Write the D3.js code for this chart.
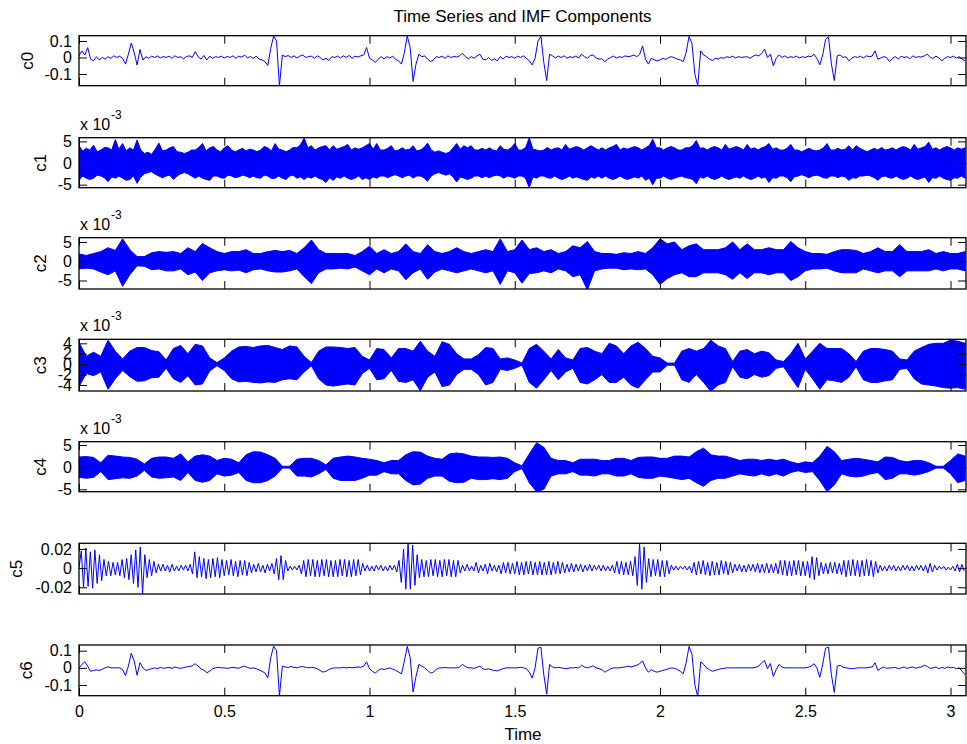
<!DOCTYPE html>
<html><head><meta charset="utf-8">
<script src="https://cdn.jsdelivr.net/npm/d3@7"></script>
<style>
body{margin:0;background:#fff}
svg{display:block}
text{font-family:"Liberation Sans",Arial,Helvetica,sans-serif;fill:#000}
</style>
</head><body>
<svg id="chart" width="967" height="744"></svg>
<script>
// ---------------- DATA ----------------
const titleText = "Time Series and IMF Components";
const xLabelText = "Time";
const componentNames = ["c0","c1","c2","c3","c4","c5","c6"];
const timeTicks = [0,0.5,1,1.5,2,2.5,3];
const timeTickLabels = ["0","0.5","1","1.5","2","2.5","3"];
const timeEnd = 3.0533;

// c0 and c6: samples every 0.01 s, in units of 1e-3
const c0 = [
10,40,15,60,-10,-20,5,-15,0,-10,
5,-5,10,0,8,-5,-40,20,88,30,
-46,48,-16,5,-5,8,0,10,-3,6,
0,8,-5,10,0,5,-8,6,10,0,
35,5,-10,12,-15,8,-5,5,0,8,
-3,6,0,10,-5,8,2,15,-3,6,
-5,8,-10,-15,-25,-48,55,130,100,-173,
15,5,12,0,10,-3,8,15,0,5,
8,-5,10,0,-15,-5,-18,5,0,8,
-3,10,0,12,-5,8,3,10,15,60,
-5,-15,-30,-10,5,-8,5,-3,8,-12,
-20,-40,30,130,60,-145,-40,20,5,10,
-10,-25,-15,5,0,8,-5,10,0,6,
3,10,25,5,-8,5,-5,10,20,-10,
-15,0,-18,-8,-20,5,-10,8,0,5,
-5,8,0,10,-5,-20,-45,-5,100,128,
-30,-140,20,10,-3,8,0,10,-5,5,
0,8,-3,20,5,-5,12,15,-3,-10,
-8,-25,-10,0,8,-3,5,0,10,5,
8,15,5,20,70,-10,-40,-5,-15,-20,
-15,-5,-12,0,5,-3,-10,-15,-25,30,
128,85,-100,-173,40,15,5,-10,-18,-5,
-10,0,-5,5,0,8,-3,5,0,3,
5,-5,8,15,10,25,50,0,20,-50,
-5,15,0,10,-3,5,0,8,-3,5,
0,8,5,20,-5,-45,15,110,125,-40,
-140,10,15,0,5,-20,-5,5,0,8,
-3,10,5,8,40,-10,-3,5,0,-25,
-5,5,-10,8,0,5,-8,10,0,5,
3,10,20,0,-5,8,-3,-20,-5,5,
0,8,-3,5,-10,-20];

const c6 = [
0,20,35,10,-20,-15,-12,-15,-8,0,
6,0,0,0,0,-10,-45,10,85,40,
-43,30,0,-15,-10,-5,0,-5,3,-3,
0,3,-3,5,0,-3,2,5,8,12,
24,10,-5,-15,-28,-20,-5,0,3,0,
0,-3,0,3,0,-2,5,10,2,-3,
0,-5,-12,-20,-30,-58,60,125,100,-165,
10,5,2,8,3,0,5,8,3,0,
3,0,-5,-15,-25,-20,-10,-3,0,0,
0,2,0,3,0,2,5,3,10,35,
-5,-20,-30,-15,-5,-10,-5,0,-8,-15,
-25,-35,40,125,60,-140,-50,20,10,0,
-15,-30,-25,-8,0,0,2,0,0,0,
0,5,20,8,0,0,-3,3,10,-5,
-10,-5,-12,-15,-18,-10,-5,0,0,0,
0,0,3,0,-5,-25,-60,0,115,120,
-40,-153,20,5,0,3,0,-3,-5,0,
0,2,0,15,5,0,5,12,0,-5,
-10,-25,-15,-5,0,0,0,3,5,10,
5,10,15,25,40,0,-25,-10,-20,-25,
-20,-15,-10,-5,0,-3,-10,-20,-35,30,
125,80,-100,-167,35,20,0,-10,-20,-15,
-10,-5,-3,0,0,0,0,0,0,0,
0,0,0,3,10,30,43,-5,25,-50,
-10,20,5,0,0,0,0,0,0,0,
0,3,10,24,0,-55,20,115,120,-40,
-143,10,15,3,0,-3,-5,-3,0,0,
0,0,3,5,30,-15,-3,5,-3,0,
0,3,-5,0,5,-3,2,5,-2,3,
5,15,8,-3,0,5,-5,3,-3,5,
0,3,-5,0,-20,-40];

// c5: successive oscillation extremes every 1/128 s, units of 1e-3
const c5 = [
0,18,-20,21,-19,17,-21,19,-16,14,-13,9,-8,7,-8,6,
-7,6,-8,9,-10,10,-12,14,-16,19,-20,22,-27,14,-10,9,
-8,7,-5,4,-3,4,-3,3,-4,4,-3,2,-3,3,-2,3,
-3,4,-6,17,-10,12,-9,10,-11,9,-10,10,-9,11,-10,9,
-8,8,-7,9,-8,7,-9,8,-7,8,-8,6,-5,4,-4,5,
-4,3,-5,4,-3,5,-6,10,-12,13,-12,8,-3,2,-2,2,
-2,3,-6,8,-9,9,-8,9,-9,8,-9,9,-8,9,-9,8,
-9,8,-9,9,-8,9,-9,8,-9,9,-8,9,-7,5,-3,3,
-3,2,-3,3,-2,3,-3,2,-3,3,-2,3,-4,8,-15,20,
-22,26,-22,24,-18,14,-10,9,-9,8,-9,9,-8,9,-9,8,
-9,9,-8,9,-9,8,-9,8,-5,3,-3,4,-3,2,-3,6,
-5,3,-3,4,-6,5,-3,3,-4,3,-6,6,-5,6,-6,5,
-6,7,-7,6,-7,7,-6,7,-7,6,-7,7,-7,6,-7,7,
-7,6,-6,7,-6,6,-5,4,-4,5,-4,4,-3,4,-4,3,
-3,4,-3,3,-2,3,-3,3,-3,2,-3,3,-5,7,-6,7,
-7,6,-7,7,-8,12,-18,26,-22,22,-15,10,-9,9,-8,9,
-9,8,-9,8,-6,3,-2,2,-2,2,-1,2,-2,2,-5,6,
-7,7,-6,8,-7,6,-8,7,-7,6,-7,8,-6,7,-7,6,
-5,4,-3,4,-4,3,-4,4,-3,4,-4,5,-5,4,-5,5,
-5,4,-5,5,-6,8,-7,8,-8,7,-8,8,-7,8,-8,7,
-8,7,-10,12,-12,11,-8,6,-6,5,-6,6,-5,6,-6,5,
-7,8,-9,8,-8,9,-8,8,-9,8,-8,9,-8,8,-9,7,
-5,3,-3,2,-3,3,-2,3,-3,2,-3,3,-2,3,-3,2,
-3,3,-2,3,-3,3,-5,5,-4,3,-2,2,-1,2,-2,1,
-2,2,-3,4,-4,4,-3];

// c1: upper / lower envelope every 0.0125 s, units of 1e-3
const c1Upper = [
4.0,2.8,3.4,3.0,4.1,2.6,3.0,3.6,3.5,3.0,5.4,3.2,4.5,2.8,3.5,3.0,
5.3,3.0,2.2,2.5,2.0,3.2,4.6,2.8,3.0,3.5,3.8,2.6,2.5,2.2,2.5,3.0,
3.0,3.6,4.5,2.8,3.5,3.8,3.0,2.6,3.5,4.0,3.0,2.6,3.0,3.4,2.8,3.2,
3.0,2.6,3.0,3.8,3.5,2.8,4.5,3.2,3.0,2.6,3.0,3.6,3.5,4.2,5.8,3.5,
4.0,3.0,3.5,3.8,4.0,3.0,4.0,3.2,3.5,3.8,4.3,3.0,3.5,3.2,3.5,4.0,
4.5,3.2,4.5,3.0,3.0,3.4,4.0,2.8,3.0,3.5,3.0,3.2,4.0,2.8,3.0,3.6,
4.6,3.0,2.5,2.8,2.5,2.2,2.5,3.5,4.5,3.2,4.0,3.5,4.0,3.0,3.0,3.4,
3.0,3.5,3.0,2.8,4.0,3.2,3.0,3.5,4.5,3.0,3.0,3.6,5.8,3.2,3.0,2.8,
3.0,3.6,3.0,3.4,3.5,3.0,4.3,3.2,3.5,3.8,3.5,3.0,3.5,4.0,3.5,3.0,
3.5,3.0,3.5,3.8,4.3,3.0,3.5,3.2,3.5,3.8,3.5,3.0,3.5,4.0,5.5,3.5,
3.5,3.0,3.5,3.8,3.5,3.0,3.0,3.5,3.5,4.0,5.2,3.4,3.5,3.0,3.5,3.8,
3.5,3.0,4.3,3.2,3.5,3.8,3.5,3.0,4.3,3.2,3.5,3.0,3.5,3.8,4.5,3.2,
3.5,3.0,3.0,3.4,4.3,3.0,3.0,2.6,3.0,3.4,3.0,2.8,3.0,3.5,4.5,3.0,
3.0,3.4,3.0,3.2,4.0,3.0,4.0,3.4,3.0,2.6,3.0,3.4,3.0,3.6,3.0,3.2,
3.5,3.0,3.5,3.8,3.5,3.0,4.3,3.2,3.5,3.8,4.8,3.2,3.5,3.0,3.5,3.8,
3.5,3.0,3.5,3.2,3.5];
const c1Lower = [
-4.0,-3.0,-3.5,-3.8,-3.5,-2.8,-3.0,-3.4,-4.3,-3.2,-3.5,-3.0,-3.5,-4.0,-3.8,-3.0,
-4.7,-3.2,-2.5,-2.2,-2.0,-2.6,-3.0,-3.4,-3.0,-2.8,-3.8,-3.0,-2.5,-2.2,-2.5,-3.0,
-3.5,-3.0,-3.5,-3.8,-4.0,-3.0,-3.0,-3.4,-3.5,-2.8,-3.0,-3.4,-3.2,-2.8,-3.0,-3.4,
-3.0,-3.4,-3.5,-2.8,-3.0,-3.6,-3.5,-3.0,-3.5,-3.8,-3.0,-2.8,-3.5,-3.2,-3.8,-3.2,
-3.5,-3.0,-3.5,-3.8,-4.5,-3.4,-4.0,-3.2,-3.5,-3.0,-3.5,-3.8,-3.5,-3.0,-3.8,-3.4,
-3.8,-3.2,-3.5,-3.0,-3.0,-3.4,-3.0,-2.7,-3.0,-3.4,-3.0,-2.8,-3.5,-3.0,-3.0,-3.4,
-4.2,-3.0,-2.5,-2.2,-2.5,-2.8,-2.5,-3.2,-4.4,-3.2,-3.5,-3.8,-3.5,-3.0,-3.0,-3.4,
-3.0,-3.4,-3.0,-2.8,-3.0,-3.5,-3.0,-3.2,-3.5,-3.0,-3.0,-3.6,-5.7,-3.2,-3.5,-3.0,
-3.0,-3.4,-3.5,-3.0,-3.5,-3.8,-3.5,-3.0,-3.5,-3.2,-3.5,-3.8,-4.0,-3.2,-3.5,-3.0,
-3.5,-3.0,-3.5,-3.8,-3.5,-3.0,-3.5,-3.8,-3.5,-3.2,-3.5,-3.0,-4.0,-3.5,-5.0,-3.5,
-3.5,-3.0,-3.5,-3.8,-3.5,-3.2,-3.0,-3.4,-3.5,-3.8,-4.8,-3.2,-3.5,-3.0,-3.5,-3.8,
-3.5,-3.0,-3.5,-3.8,-3.5,-3.2,-3.5,-3.0,-3.5,-3.8,-3.5,-3.0,-3.5,-3.2,-4.5,-3.4,
-3.5,-3.0,-3.0,-3.4,-4.3,-3.2,-3.0,-2.7,-3.0,-3.4,-3.0,-2.8,-3.0,-3.4,-3.5,-3.0,
-3.0,-3.4,-3.0,-3.2,-4.0,-3.4,-3.5,-3.0,-3.0,-2.8,-3.0,-3.4,-4.0,-3.2,-3.0,-3.4,
-3.5,-3.0,-3.5,-3.8,-3.5,-3.0,-3.5,-3.8,-3.5,-3.2,-4.5,-3.4,-3.5,-3.0,-3.5,-3.8,
-4.0,-3.4,-3.5,-3.0,-3.5];

// c2..c4: upper / lower envelopes every 0.025 s, units of 1e-3
const c2Upper = [
1.9,1.5,2.0,2.5,3.5,2.8,5.8,3.0, 1.2,1.2,2.2,2.5,2.3,2.5,2.0,3.5,
2.5,4.6,3.5,2.5,2.0,2.5,2.5,3.0, 2.0,2.0,2.5,2.8,2.5,2.8,2.0,3.5,
5.5,3.0,2.0,2.0,2.0,2.0,1.5,2.5, 3.9,2.0,3.0,2.0,2.5,4.5,2.5,2.0,
4.3,2.5,2.0,2.5,3.5,2.5,2.0,2.5, 3.0,2.5,5.8,2.5,3.0,5.5,3.0,3.5,
2.5,3.0,2.0,2.5,4.0,3.5,5.1,2.5, 2.0,2.0,1.8,2.2,2.0,2.5,2.0,3.5,
5.8,4.5,5.0,3.0,4.0,4.5,3.0,3.0, 3.0,3.5,5.0,3.0,4.5,3.0,3.0,3.5,
3.0,3.0,5.1,3.5,2.5,2.0,2.0,1.8, 2.5,3.0,3.0,2.8,2.0,2.5,3.5,2.5,
2.5,4.3,2.5,2.5,2.5,3.0,2.0,2.5, 2.0,2.0,2.5];
const c2Lower = [
-2.0,-1.8,-2.0,-2.8,-3.5,-2.5,-6.5,-3.5, -1.2,-1.3,-2.2,-2.0,-2.5,-2.5,-2.0,-3.5,
-2.8,-5.0,-3.0,-2.5,-2.2,-2.5,-2.3,-3.0, -2.2,-2.0,-2.5,-2.8,-2.8,-2.5,-2.0,-4.0,
-5.8,-3.0,-2.0,-2.0,-1.8,-2.0,-1.5,-2.5, -3.5,-2.0,-3.0,-2.0,-2.5,-4.8,-3.0,-2.0,
-4.7,-2.8,-2.0,-2.5,-3.0,-2.5,-2.0,-2.5, -3.0,-2.5,-6.0,-2.5,-3.0,-5.7,-3.2,-3.0,
-2.5,-3.0,-2.0,-2.5,-4.0,-3.5,-7.4,-2.5, -2.0,-1.8,-1.8,-2.2,-2.0,-2.2,-2.0,-3.5,
-6.0,-4.5,-3.5,-3.0,-4.0,-4.0,-3.0,-3.0, -3.0,-3.5,-4.7,-3.0,-4.5,-3.0,-3.0,-3.5,
-3.0,-3.0,-5.0,-4.0,-2.5,-2.0,-2.0,-1.8, -2.5,-3.0,-3.0,-3.0,-2.0,-2.5,-3.0,-2.5,
-2.5,-4.0,-2.5,-2.5,-2.5,-2.5,-2.0,-2.5, -2.0,-2.0,-2.5];

const c3Upper = [
4.2,1.5,2.3,1.5,4.6,2.5,1.0,2.5, 3.2,3.2,2.6,2.4,0.8,3.0,3.6,2.0,
3.8,3.5,1.2,0.3,1.2,2.5,3.3,3.4, 3.2,3.5,3.6,3.2,2.8,3.5,3.3,1.5,
0.3,2.5,3.3,3.3,3.2,3.0,3.2,1.5, 0.8,3.0,2.8,1.2,3.0,3.0,2.5,4.4,
2.5,1.5,4.3,3.8,2.0,1.0,1.0,1.8, 3.2,3.0,1.0,1.2,0.8,0.2,3.0,3.8,
2.5,1.0,2.8,1.2,0.8,3.0,3.2,2.5, 2.0,4.0,3.5,2.0,3.5,4.2,3.0,1.5,
1.2,0.2,0.2,2.5,3.0,2.5,3.0,4.6, 3.5,3.0,0.5,2.5,2.8,2.0,2.5,2.2,
0.8,0.5,2.0,4.0,1.0,2.5,4.0,3.0, 3.0,3.0,2.0,0.5,2.5,3.0,3.0,2.8,
2.5,1.0,0.8,2.5,3.2,3.8,4.0,4.0, 4.6,4.4,4.0];
const c3Lower = [
-4.3,-1.8,-2.2,-1.5,-4.8,-2.8,-1.2,-2.4, -3.3,-3.2,-2.6,-2.5,-0.8,-2.8,-3.5,-2.2,
-4.0,-3.8,-1.3,-0.3,-1.2,-2.8,-3.4,-3.3, -3.5,-3.6,-3.4,-3.5,-3.0,-2.8,-3.0,-1.5,
-0.3,-2.8,-4.0,-4.2,-4.0,-3.8,-4.0,-1.8, -0.8,-3.0,-2.8,-1.2,-3.3,-3.5,-3.0,-5.1,
-2.5,-1.5,-4.3,-4.0,-2.0,-1.0,-1.0,-2.0, -4.0,-3.5,-1.0,-1.2,-0.8,-0.2,-3.5,-4.6,
-3.0,-1.2,-3.0,-1.5,-0.8,-3.5,-3.8,-3.0, -2.0,-3.5,-3.5,-2.5,-4.0,-4.6,-3.0,-1.5,
-1.5,-0.2,-0.2,-3.0,-3.5,-2.0,-3.5,-5.2, -4.0,-3.5,-0.5,-2.5,-2.8,-2.0,-2.5,-2.2,
-0.8,-0.5,-2.5,-4.5,-1.0,-2.8,-4.8,-3.0, -3.2,-3.5,-2.5,-0.5,-3.0,-3.5,-3.5,-3.2,
-3.0,-1.0,-0.8,-2.8,-3.8,-4.0,-4.2,-4.5, -4.6,-4.5,-4.8];

const c4Upper = [
2.3,2.4,2.2,1.0,2.7,2.5,2.3,2.2, 1.8,0.7,2.0,2.3,2.3,2.0,3.0,1.2,
2.5,2.8,2.5,1.5,2.0,1.8,1.0,2.8, 3.5,3.4,2.8,2.0,0.2,0.2,1.8,2.0,
2.0,1.5,0.5,2.0,2.3,2.5,2.3,2.0, 1.8,1.5,1.0,1.5,1.5,2.8,3.5,3.4,
2.5,2.0,1.8,3.0,3.2,3.0,2.5,2.3, 2.3,2.2,2.3,2.0,1.0,0.3,3.0,5.5,
4.5,2.0,1.5,1.5,1.0,1.8,1.8,1.8, 1.5,1.5,2.0,2.0,1.5,2.2,2.3,2.3,
2.0,2.0,2.5,2.5,2.3,3.5,4.3,2.8, 2.5,2.5,2.0,1.5,1.8,1.8,1.5,1.8,
1.5,1.8,1.2,0.8,1.2,1.0,2.5,4.7, 3.5,1.5,1.8,2.0,1.8,1.5,1.2,2.3,
2.2,1.5,1.2,1.5,1.5,1.0,0.2,0.2, 1.5,3.0,2.5];
const c4Lower = [
-2.3,-2.5,-2.3,-1.0,-2.8,-2.6,-2.4,-2.5, -2.0,-0.7,-2.2,-2.5,-2.4,-2.2,-3.0,-1.2,
-3.0,-3.4,-3.0,-1.5,-2.0,-1.8,-1.2,-3.0, -3.5,-3.5,-3.0,-2.0,-0.2,-0.2,-2.0,-2.0,
-2.2,-1.5,-0.5,-2.5,-3.0,-3.0,-3.0,-2.5, -1.8,-1.8,-1.0,-1.5,-1.5,-3.0,-4.0,-3.8,
-2.5,-2.0,-2.0,-3.2,-3.5,-3.4,-2.5,-2.8, -2.8,-2.6,-2.8,-2.5,-1.0,-0.3,-3.5,-5.5,
-5.0,-2.0,-1.5,-1.5,-1.0,-1.8,-1.8,-2.0, -1.5,-1.5,-2.0,-2.0,-1.5,-2.3,-2.5,-2.5,
-2.0,-2.2,-2.5,-2.8,-2.5,-3.5,-4.3,-3.0, -2.5,-2.5,-2.0,-1.5,-1.8,-2.0,-1.5,-2.0,
-1.5,-2.0,-1.2,-0.8,-1.2,-1.0,-3.0,-5.5, -4.0,-1.5,-2.0,-2.2,-2.0,-1.5,-1.2,-2.8,
-2.5,-1.5,-1.5,-1.8,-1.5,-1.0,-0.2,-0.2, -1.5,-3.5,-3.0];

// y tick values (as displayed) and their labels
const c0Ticks = [-0.1,0,0.1],   c0TickLabels = ["-0.1","0","0.1"];
const c1Ticks = [-5,0,5],       c1TickLabels = ["-5","0","5"];
const c2Ticks = [-5,0,5],       c2TickLabels = ["-5","0","5"];
const c3Ticks = [-4,-2,0,2,4],  c3TickLabels = ["-4","-2","0","2","4"];
const c4Ticks = [-5,0,5],       c4TickLabels = ["-5","0","5"];
const c5Ticks = [-0.02,0,0.02], c5TickLabels = ["-0.02","0","0.02"];
const c6Ticks = [-0.1,0,0.1],   c6TickLabels = ["-0.1","0","0.1"];
const exponentBase = "x 10", exponentPower = "-3";

// ---------------- LAYOUT ----------------
const L = 79, R = 966;
const FONT = 16;
const panels = [
  {kind:"line", data:c0, step:0.01, factor:1000, top:35.7, bottom:85.7, domain:[-171,132], ticks:c0Ticks, labels:c0TickLabels, labX:33, exp:false},
  {kind:"band", up:c1Upper, lo:c1Lower, step:0.0125, factor:1, top:137.7, bottom:187.7, domain:[-5.7,5.85], ticks:c1Ticks, labels:c1TickLabels, labX:46, exp:true},
  {kind:"band", up:c2Upper, lo:c2Lower, step:0.025, factor:1, top:237.7, bottom:289, domain:[-7.2,6.1], ticks:c2Ticks, labels:c2TickLabels, labX:46, exp:true},
  {kind:"band", up:c3Upper, lo:c3Lower, step:0.025, factor:1, top:339.3, bottom:391, domain:[-5.15,4.77], ticks:c3Ticks, labels:c3TickLabels, labX:46, exp:true},
  {kind:"band", up:c4Upper, lo:c4Lower, step:0.025, factor:1, top:441.7, bottom:491.7, domain:[-5.53,5.75], ticks:c4Ticks, labels:c4TickLabels, labX:46, exp:true},
  {kind:"line", data:c5, step:1/128, factor:1000, top:543.3, bottom:594, domain:[-27,25.9], ticks:c5Ticks, labels:c5TickLabels, labX:21.5, exp:false},
  {kind:"line", data:c6, step:0.01, factor:1000, top:645, bottom:695.7, domain:[-162,133], ticks:c6Ticks, labels:c6TickLabels, labX:32, exp:false}
];

const svg = d3.select("#chart");
const x = d3.scaleLinear().domain([0, timeEnd]).range([L, R]);
const defs = svg.append("defs");
const BLUE = "#0000ff";

function styleAxis(sel){
  sel.attr("font-family",'"Liberation Sans",Arial,sans-serif').attr("font-size",FONT);
  sel.select(".domain").remove();
  sel.selectAll(".tick line").attr("stroke","#000");
}

panels.forEach((p, i) => {
  const y = d3.scaleLinear().domain(p.domain).range([p.bottom, p.top]);
  const clipId = "clip" + i;
  defs.append("clipPath").attr("id", clipId).append("rect")
    .attr("x", L).attr("y", p.top).attr("width", R - L).attr("height", p.bottom - p.top);
  const g = svg.append("g");
  const dg = g.append("g").attr("clip-path", `url(#${clipId})`);

  if (p.kind === "line") {
    const line = d3.line().x((d, k) => x(k * p.step)).y(d => y(d));
    dg.append("path").datum(p.data).attr("d", line)
      .attr("fill", "none").attr("stroke", BLUE).attr("stroke-width", 1).attr("stroke-linejoin", "round");
  } else {
    const area = d3.area().x((d, k) => x(k * p.step)).y0((d, k) => y(p.lo[k])).y1(d => y(d));
    dg.append("path").datum(p.up).attr("d", area)
      .attr("fill", BLUE).attr("stroke", BLUE).attr("stroke-width", 1).attr("stroke-linejoin", "round");
  }

  const yVals = p.ticks.map(v => v * p.factor);
  g.append("g").attr("transform", `translate(${L},0)`)
    .call(d3.axisLeft(y).tickValues(yVals).tickFormat((d, k) => p.labels[k]).tickSize(-8).tickPadding(7))
    .call(styleAxis);
  g.append("g").attr("transform", `translate(${R},0)`)
    .call(d3.axisRight(y).tickValues(yVals).tickFormat("").tickSize(-8))
    .call(styleAxis);
  g.append("g").attr("transform", `translate(0,${p.top})`)
    .call(d3.axisTop(x).tickValues(timeTicks).tickFormat("").tickSize(-8))
    .call(styleAxis);
  g.append("g").attr("transform", `translate(0,${p.bottom})`)
    .call(d3.axisBottom(x).tickValues(timeTicks)
      .tickFormat(i === panels.length - 1 ? (d, k) => timeTickLabels[k] : "")
      .tickSize(-8).tickPadding(10))
    .call(styleAxis);

  g.append("rect").attr("x", L).attr("y", p.top).attr("width", R - L).attr("height", p.bottom - p.top)
    .attr("fill", "none").attr("stroke", "#000").attr("stroke-width", 1.3);

  const cy = (p.top + p.bottom) / 2;
  svg.append("text").attr("transform", `translate(${p.labX},${cy}) rotate(-90)`)
    .attr("text-anchor", "middle").attr("font-size", 17).text(componentNames[i]);

  if (p.exp) {
    svg.append("text").attr("x", 80).attr("y", p.top - 8).attr("font-size", FONT).text(exponentBase);
    svg.append("text").attr("x", 111).attr("y", p.top - 19).attr("font-size", 12).text(exponentPower);
  }
});

svg.append("text").attr("x", (L + R) / 2).attr("y", 21.5).attr("text-anchor", "middle")
  .attr("font-size", 17).text(titleText);
svg.append("text").attr("x", 523).attr("y", 740).attr("text-anchor", "middle")
  .attr("font-size", 17).text(xLabelText);
</script>
</body></html>
